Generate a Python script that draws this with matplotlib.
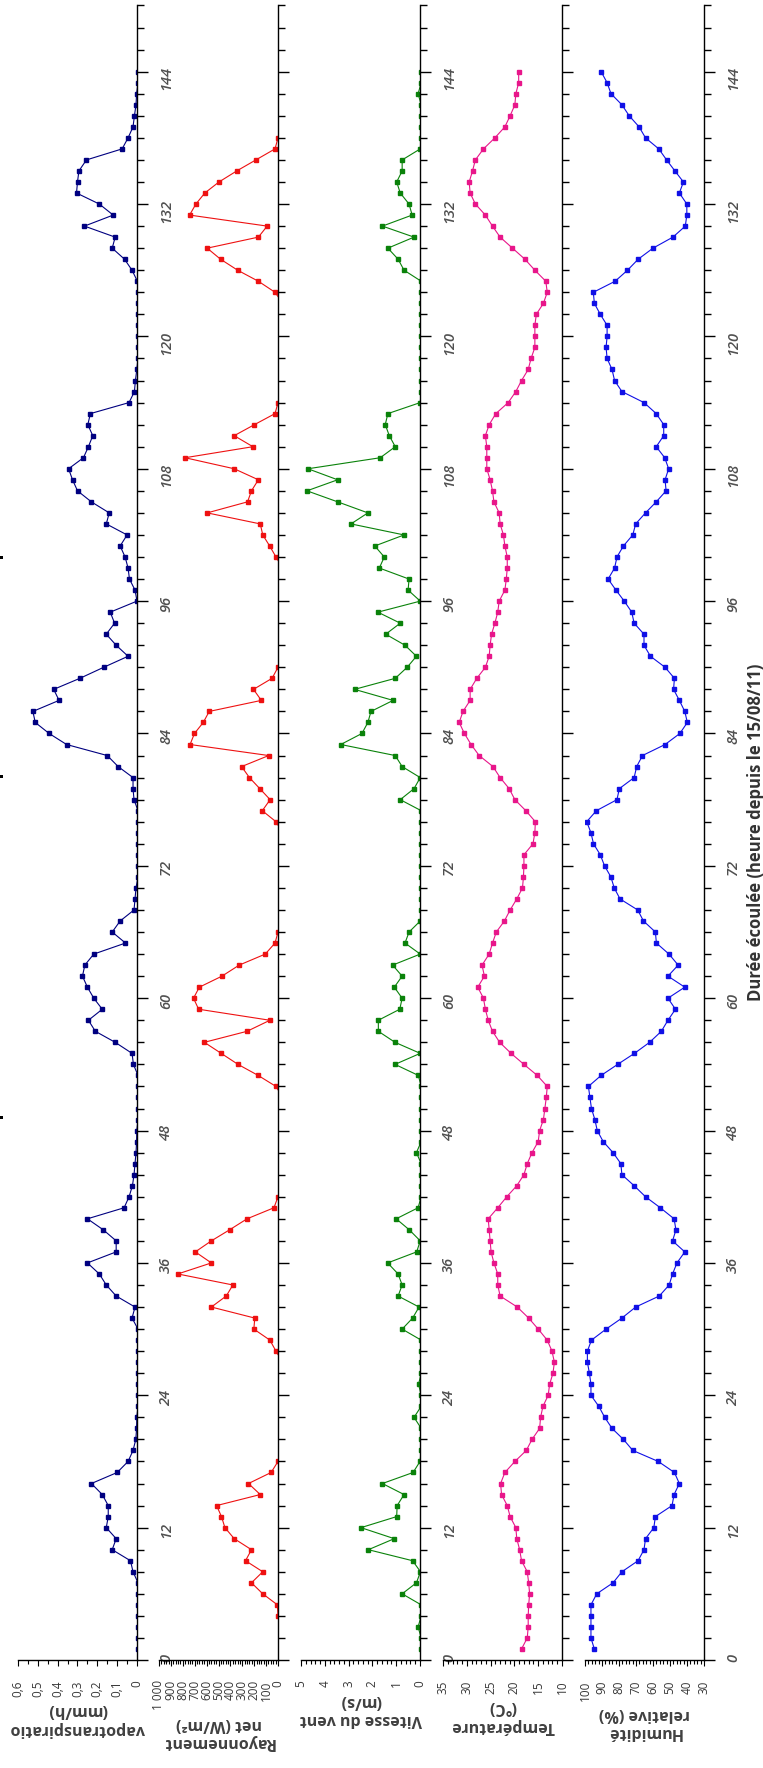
import matplotlib
matplotlib.use("Agg")
import matplotlib.pyplot as plt
from matplotlib.patches import Rectangle
from matplotlib.ticker import MultipleLocator, FuncFormatter

plt.rcParams['font.family'] = ['Open Sans', 'DejaVu Sans']

# heures depuis le 15/08/11 (mesures horaires)
hours = list(range(1, 145))

vapotranspiration = [
    -0.005, -0.005, -0.005, -0.005, -0.005, -0.005, -0.005, 0.02, 0.033, 0.125, 0.105, 0.155,
    0.145, 0.145, 0.175, 0.23, 0.10, 0.045, 0.02, 0.006, 0.002, 0.001, -0.005, -0.005,
    -0.005, -0.005, -0.005, -0.005, -0.005, -0.005, 0.025, 0.01, 0.105, 0.155, 0.19, 0.25,
    0.105, 0.105, 0.17, 0.25, 0.065, 0.04, 0.023, 0.015, 0.01, 0.005, 0.002, 0.001,
    -0.005, -0.005, -0.005, -0.005, -0.005, 0.018, 0.025, 0.11, 0.21, 0.245, 0.175, 0.218,
    0.25, 0.275, 0.263, 0.218, 0.058, 0.125, 0.085, 0.015, 0.01, 0.005, -0.005, -0.005,
    -0.005, -0.005, -0.005, -0.005, -0.005, 0.015, 0.02, 0.02, 0.095, 0.15, 0.355, 0.443,
    0.513, 0.525, 0.393, 0.42, 0.288, 0.168, 0.045, 0.105, 0.155, 0.113, 0.135, 0.0,
    0.01, 0.038, 0.045, 0.06, 0.085, 0.05, 0.155, 0.14, 0.23, 0.30, 0.325, 0.345,
    0.27, 0.245, 0.223, 0.248, 0.235, 0.04, 0.013, 0.008, 0.001, -0.005, -0.005, -0.005,
    -0.005, -0.005, -0.005, -0.005, -0.002, 0.025, 0.063, 0.125, 0.11, 0.265, 0.12, 0.19,
    0.305, 0.30, 0.293, 0.255, 0.075, 0.045, 0.02, 0.013, 0.005, 0.002, -0.005, -0.005,
]

rayonnement = [
    -40, -40, -40, 0, 5, 128, 223, 128, 273, 223, 368, 446,
    475, 516, 149, 248, 58, 0, -40, -40, -40, -40, -40, -40,
    -40, -40, -40, 17, 68, 203, 195, 560, 435, 379, 842, 560,
    695, 560, 407, 260, 34, 0, -40, -40, -40, -40, -40, -40,
    -40, -40, -40, 17, 167, 336, 477, 619, 260, 68, 667, 710,
    661, 471, 326, 107, 25, 0, -40, -40, -40, -40, -40, -40,
    -40, -40, -40, 17, 132, 66, 153, 240, 306, 78, 739, 702,
    628, 578, 140, 206, 50, 0, -40, -40, -40, -40, -40, -40,
    -40, -40, -40, 17, 70, 128, 149, 595, 256, 223, 165, 368,
    781, 211, 368, 198, 25, 0, -40, -40, -40, -40, -40, -40,
    -40, -40, -40, 25, 165, 339, 483, 595, 165, 91, 743, 690,
    615, 496, 347, 186, 25, 0, -40, -40, -40, -40, -40, -40,
]

vent = [
    -0.05, -0.05, 0.08, -0.05, -0.05, 0.75, 0.15, -0.02, 0.31, 2.17, 1.08, 2.48,
    0.98, 0.96, 0.67, 1.58, 0.29, 0.0, -0.05, -0.05, -0.05, 0.25, -0.05, -0.05,
    0.06, -0.05, -0.05, -0.05, -0.05, 0.75, 0.31, 0.04, 0.92, 0.75, 0.92, 1.36,
    0.14, -0.01, 0.45, 1.0, 0.08, -0.05, -0.05, -0.05, -0.05, 0.15, -0.05, -0.05,
    -0.05, -0.05, -0.05, -0.05, 0.07, 1.05, -0.01, 1.05, 1.75, 1.75, 0.85, 0.75,
    1.08, 0.75, 1.15, -0.01, 0.63, 0.46, -0.01, -0.05, -0.05, -0.05, -0.05, -0.05,
    -0.05, -0.05, -0.05, -0.05, -0.05, 0.83, 0.25, -0.01, 0.75, 1.04, 3.33, 2.44,
    2.19, 2.06, 1.13, 2.75, 1.04, 0.54, 0.15, 0.63, 1.44, 0.83, 1.77, -0.01,
    0.5, 0.46, 1.71, 1.5, 1.9, 0.67, 2.9, 2.19, 3.46, 4.75, 3.46, 4.71,
    1.67, 1.04, 1.29, 1.46, 1.35, -0.01, -0.05, -0.05, -0.05, -0.05, -0.05, -0.05,
    -0.05, -0.05, -0.05, -0.05, -0.05, 0.67, 0.92, 1.35, 0.25, 1.58, 0.33, 0.46,
    0.83, 0.98, 0.75, 0.75, -0.01, -0.05, -0.05, -0.05, -0.05, 0.08, -0.05, -0.05,
]

temperature = [
    18.5, 17.3, 17.1, 17.1, 17.0, 16.8, 17.0, 17.3, 18.5, 18.9, 19.5, 19.7,
    20.9, 21.5, 22.7, 22.9, 22.0, 19.9, 17.5, 16.3, 14.7, 14.5, 14.0, 12.9,
    12.6, 11.9, 11.6, 12.1, 13.1, 15.0, 17.0, 19.4, 23.0, 23.5, 23.5, 24.3,
    24.9, 25.1, 25.3, 25.5, 23.5, 21.6, 19.5, 18.0, 17.3, 16.3, 15.0, 14.7,
    13.9, 13.6, 13.3, 13.1, 15.2, 18.0, 20.7, 23.1, 24.6, 25.5, 26.1, 26.5,
    27.7, 26.3, 26.8, 25.3, 24.6, 23.8, 22.1, 20.9, 19.5, 18.3, 18.1, 18.0,
    18.0, 16.1, 15.7, 15.6, 17.6, 19.9, 21.1, 23.0, 24.5, 27.4, 29.1, 30.5,
    31.6, 30.8, 29.3, 29.3, 27.9, 26.1, 25.3, 25.1, 24.8, 24.1, 23.5, 23.2,
    22.0, 21.7, 21.5, 21.5, 22.0, 22.3, 23.0, 23.2, 24.3, 24.6, 25.1, 25.8,
    25.8, 25.8, 26.1, 25.3, 23.9, 21.3, 19.7, 18.5, 17.1, 16.5, 15.7, 15.7,
    15.7, 15.4, 13.9, 13.1, 13.4, 15.7, 17.8, 20.4, 23.0, 24.6, 26.1, 28.2,
    29.3, 29.5, 28.8, 28.2, 26.5, 24.1, 22.0, 20.9, 19.9, 19.7, 19.1, 19.1,
]

humidite = [
    94.5, 96.5, 96.5, 96.5, 96.5, 93.1, 83.5, 78.3, 68.8, 65.3, 64.4, 59.5,
    58.6, 48.8, 47.6, 44.5, 47.4, 56.9, 71.9, 77.4, 84.1, 88.4, 91.9, 96.5,
    96.5, 97.4, 98.6, 98.6, 96.2, 87.6, 78.3, 70.2, 56.3, 50.5, 48.5, 45.9,
    41.3, 48.5, 46.5, 47.6, 55.7, 64.4, 71.1, 78.3, 78.9, 83.5, 89.3, 92.8,
    94.2, 96.2, 97.1, 98.0, 90.5, 80.8, 70.9, 62.0, 55.1, 51.2, 46.8, 51.2,
    41.3, 51.2, 45.2, 50.6, 58.0, 58.6, 65.6, 69.0, 79.4, 82.8, 84.8, 88.5,
    91.0, 95.0, 96.5, 99.0, 93.3, 81.2, 79.8, 71.1, 69.6, 66.2, 52.9, 44.2,
    39.8, 41.3, 44.5, 47.9, 47.4, 52.9, 61.5, 65.3, 65.3, 71.1, 72.5, 76.9,
    81.8, 86.4, 82.6, 81.2, 77.4, 71.9, 70.2, 64.4, 58.1, 52.3, 52.9, 50.8,
    53.1, 58.1, 53.7, 53.7, 58.1, 65.3, 78.3, 82.6, 84.1, 87.0, 87.6, 87.0,
    87.0, 91.0, 94.5, 95.1, 82.3, 75.0, 68.7, 60.0, 48.3, 41.0, 40.1, 40.1,
    44.5, 42.1, 47.1, 52.0, 56.6, 64.4, 68.2, 74.0, 78.3, 84.7, 87.0, 90.5,
]

labels = [
    "vapotranspiratio\n(mm/h)",
    "Rayonnement\nnet (W/m²)",
    "Vitesse du vent\n(m/s)",
    "Température\n(°C)",
    "Humidité\nrelative (%)",
]
colors = ["#000080", "#ee1111", "#0a820a", "#e8168a", "#1010e6"]
time_label = "Durée écoulée (heure depuis le 15/08/11)"


def fmt_vapo(v, pos):
    if abs(v) < 1e-9:
        return "0"
    return f"{v:.1f}".replace(".", ",")


def fmt_ray(v, pos):
    if v >= 1000:
        return "1 000"
    return f"{int(round(v))}"


def fmt_int(v, pos):
    return f"{int(round(v))}"


def main():
    W, H = 763, 1768
    fig = plt.figure(figsize=(W / 100, H / 100), dpi=100)

    panels = [
        (vapotranspiration, 0.6, 0.0, 0.1, 0.05, fmt_vapo, True),
        (rayonnement, 1000, 0, 100, 20, fmt_ray, False),
        (vent, 5, 0, 1, 0.2, fmt_int, True),
        (temperature, 35, 10, 5, 1, fmt_int, False),
        (humidite, 100, 30, 10, 2, fmt_int, True),
    ]
    lefts = [18, 159, 301, 443, 585]
    width = 119
    bottom = (H - 1660) / H
    height = 1654.5 / H

    axes = []
    for i, (vals, hi, lo, major, minor, fmt, show_time) in enumerate(panels):
        ax = fig.add_axes([lefts[i] / W, bottom, width / W, height])
        ax.patch.set_visible(False)  # sinon les etiquettes du panneau voisin sont masquees
        c = colors[i]
        ax.plot(vals, hours, color=c, lw=0.8, marker='s', ms=3.2, mec=c, mfc=c)
        ax.set_xlim(hi, lo)
        ax.set_ylim(0, 150)

        ax.spines['left'].set_visible(False)
        ax.spines['top'].set_visible(False)
        ax.spines['right'].set_linewidth(1.0)
        ax.spines['bottom'].set_linewidth(1.0)

        # axe du temps (a droite)
        ax.yaxis.tick_right()
        ax.yaxis.set_major_locator(MultipleLocator(12))
        ax.yaxis.set_minor_locator(MultipleLocator(2))
        ax.yaxis.set_major_formatter(FuncFormatter(fmt_int))
        ax.tick_params(axis='y', which='major', direction='out', length=8, width=1.0,
                       pad=8, labelsize=10.5, labelcolor='#505050', labelrotation=90)
        ax.tick_params(axis='y', which='minor', direction='out', length=5, width=1.0)
        if not show_time:
            ax.tick_params(axis='y', which='both', labelright=False)

        # axe des valeurs (en bas)
        ax.xaxis.set_major_locator(MultipleLocator(major))
        ax.xaxis.set_minor_locator(MultipleLocator(minor))
        ax.xaxis.set_major_formatter(FuncFormatter(fmt))
        ax.tick_params(axis='x', which='major', direction='out', length=4.5, width=0.8,
                       pad=10, labelsize=8.5, labelcolor='#383838', labelrotation=90)
        ax.tick_params(axis='x', which='minor', direction='out', length=3, width=0.8)
        ax.set_xlabel(labels[i], rotation=180, fontweight='bold', fontsize=11.5,
                      color='#404040', labelpad=4)
        axes.append(ax)

    axes[-1].text((756 - lefts[-1]) / width, 0.5, time_label, rotation=90,
                  transform=axes[-1].transAxes, ha='center', va='center',
                  fontsize=12, fontweight='bold', color='#333333')

    # petits restes noirs au bord gauche de l'image d'origine
    for y_px in (557, 776, 1117):
        fig.add_artist(Rectangle((0, 1 - (y_px + 1.5) / H), 3 / W, 3 / H,
                                 transform=fig.transFigure, color='black', lw=0))

    fig.canvas.draw()
    for ax in axes:
        for lab in ax.get_yticklabels():
            lab.set_fontstyle('italic')
            lab.set_fontweight('semibold')

    fig.savefig("out.png", dpi=100)


if __name__ == "__main__":
    main()
